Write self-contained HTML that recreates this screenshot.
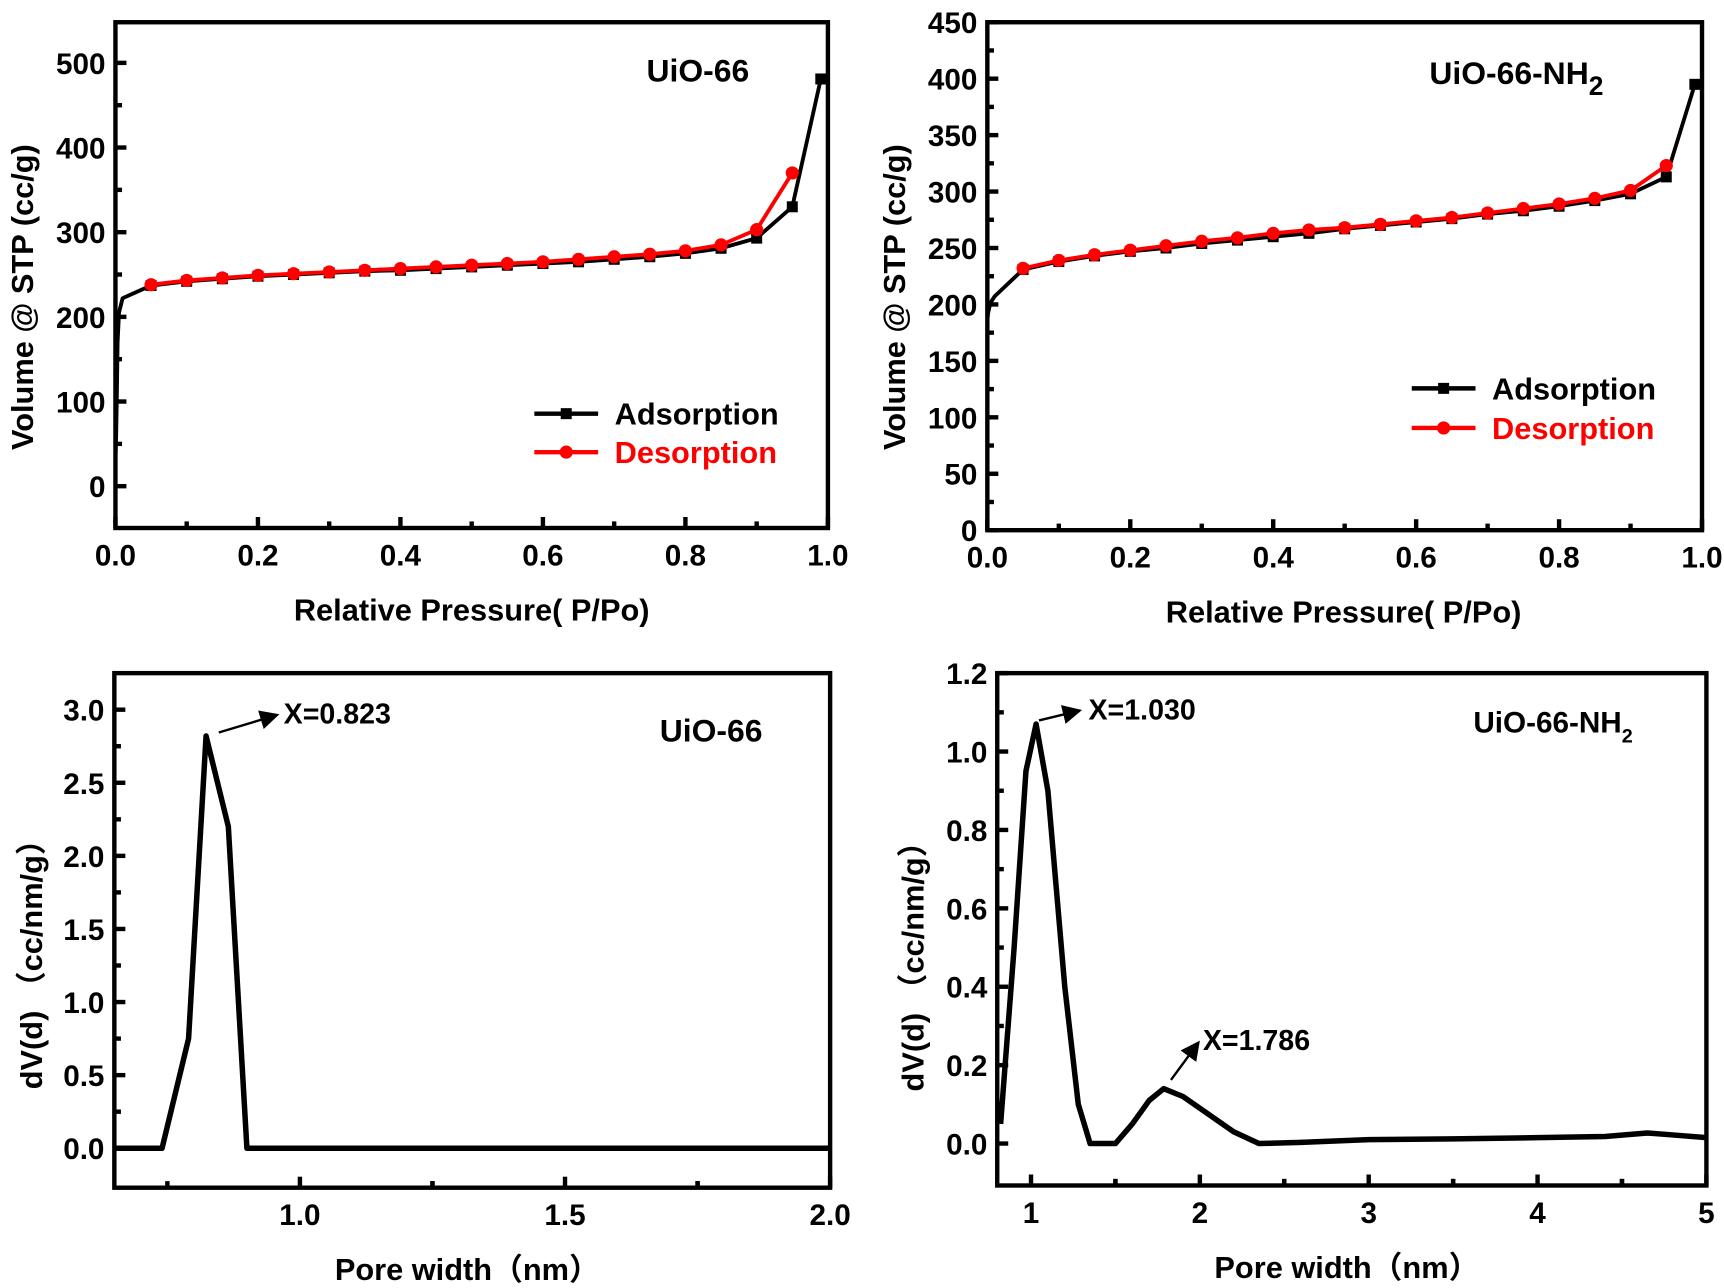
<!DOCTYPE html>
<html><head><meta charset="utf-8"><style>
html,body{margin:0;padding:0;background:#fff;}
svg{display:block;font-family:"Liberation Sans","Noto Sans CJK SC",sans-serif;font-weight:bold;}
</style></head><body>
<svg id="fig" width="1724" height="1288" viewBox="0 0 1568 1171" xmlns="http://www.w3.org/2000/svg"></svg>
<script>
// ---- data ----
const p1X = [0,0.001,0.002,0.003,0.005,0.01,0.05,0.1,0.15,0.2,0.25,0.3,0.35,0.4,0.45,0.5,0.55,0.6,0.65,0.7,0.75,0.8,0.85,0.9,0.95,0.99];
const p1Ads = [30,60,110,170,205,222,237,242,245,248,250,252,254,255,257,259,261,263,265,268,271,275,281,293,330,481];
const p1DesX = [0.05,0.1,0.15,0.2,0.25,0.3,0.35,0.4,0.45,0.5,0.55,0.6,0.65,0.7,0.75,0.8,0.85,0.9,0.95];
const p1Des = [238,243,246,249,251,253,255,257,259,261,263,265,268,271,274,278,285,303,370];
const p2X = [0,0.001,0.003,0.005,0.01,0.05,0.1,0.15,0.2,0.25,0.3,0.35,0.4,0.45,0.5,0.55,0.6,0.65,0.7,0.75,0.8,0.85,0.9,0.95,0.99];
const p2Ads = [185,192,198,202,207,231,238,243,247,250,254,257,260,263,267,270,273,276,280,283,287,292,298,313,395];
const p2DesX = [0.05,0.1,0.15,0.2,0.25,0.3,0.35,0.4,0.45,0.5,0.55,0.6,0.65,0.7,0.75,0.8,0.85,0.9,0.95];
const p2Des = [232,239,244,248,252,256,259,263,266,268,271,274,277,281,285,289,294,301,323];
const p3X = [0.65,0.74,0.79,0.823,0.865,0.9,2.0];
const p3Y = [0,0,0.75,2.82,2.2,0,0];
const p4X = [0.82,0.9,0.97,1.03,1.1,1.2,1.28,1.35,1.5,1.6,1.7,1.786,1.9,2.0,2.2,2.35,2.6,3.0,3.5,4.0,4.4,4.65,4.8,5.0];
const p4Y = [0.05,0.5,0.95,1.07,0.9,0.4,0.1,0.0,0.0,0.05,0.11,0.14,0.12,0.09,0.03,0.0,0.003,0.01,0.012,0.015,0.018,0.027,0.022,0.015];
const p1YTicks = [0,100,200,300,400,500];
const p2YTicks = [0,50,100,150,200,250,300,350,400,450];
const isoXTicks = ["0.0","0.2","0.4","0.6","0.8","1.0"];
const p3XTicks = ["1.0","1.5","2.0"];
const p3YTicks = ["0.0","0.5","1.0","1.5","2.0","2.5","3.0"];
const p4XTicks = ["1","2","3","4","5"];
const p4YTicks = ["0.0","0.2","0.4","0.6","0.8","1.0","1.2"];

const svg = document.getElementById('fig');
const NS = 'http://www.w3.org/2000/svg';
function mk(tag, attrs, parent){const e=document.createElementNS(NS,tag);for(const k in attrs)e.setAttribute(k,attrs[k]);(parent||svg).appendChild(e);return e;}
function txt(s,x,y,size,anchor,parent,fill){const t=mk('text',{x:x,y:y,'font-size':size,'text-anchor':anchor||'middle',fill:fill||'#000'},parent);t.textContent=s;return t;}

function panel(o){
  const g = mk('g',{});
  
  
  const sx = v => o.L + (v - o.x0)/(o.x1 - o.x0)*(o.R - o.L);
  const sy = v => o.B - (v - o.y0)/(o.y1 - o.y0)*(o.B - o.T);
  const fr = mk('rect',{x:o.L,y:o.T,width:o.R-o.L,height:o.B-o.T,fill:'none',stroke:'#000','stroke-width':4},g);
  
  
  o.yTicks.forEach(v=>{const n=parseFloat(v);const y=sy(n);
    mk('line',{x1:o.L,x2:o.L+10,y1:y,y2:y,stroke:'#000','stroke-width':4},g);
    const t=txt(v,o.L-9,y+10,27,'end',g);
    
    
    if(o.yMinor){const ym=sy(n+o.yMinor); if(ym>o.T+2) mk('line',{x1:o.L,x2:o.L+6,y1:ym,y2:ym,stroke:'#000','stroke-width':4},g);}
  });
  o.xTicks.forEach(v=>{const n=parseFloat(v);const x=sx(n);
    mk('line',{x1:x,x2:x,y1:o.B,y2:o.B-10,stroke:'#000','stroke-width':4},g);
    const t=txt(v,x,o.B+34,27,'middle',g);
    
    
    if(o.xMinor){const xm=sx(n+o.xMinor); if(xm<o.R-2) mk('line',{x1:xm,x2:xm,y1:o.B,y2:o.B-6,stroke:'#000','stroke-width':4},g);}
    if(o.xMinorBefore){const xm=sx(n-o.xMinor); if(xm>o.L+2) mk('line',{x1:xm,x2:xm,y1:o.B,y2:o.B-6,stroke:'#000','stroke-width':4},g);}
  });
  const xt=txt(o.xTitle,o.xTitleCx||(o.L+o.R)/2,o.B+84,28,'middle',g);
  
  
  const yt=txt(o.yTitle,0,0,28,'middle',g);
  yt.setAttribute('transform','translate('+o.yTitleX+','+o.yTitleCy+') rotate(-90)');
  
  
  o.series.forEach(s=>{
    const pts=s.x.map((xv,i)=>sx(xv)+','+sy(s.y[i])).join(' ');
    const pl=mk('polyline',{points:pts,fill:'none',stroke:s.color,'stroke-width':s.w||3.5,'stroke-linejoin':'round'},g);
    
    
    if(s.marker){s.x.forEach((xv,i)=>{
      if(s.marker==='sq'){if(xv<0.04)return;const m=mk('rect',{x:sx(xv)-5,y:sy(s.y[i])-5,width:10,height:10,fill:s.color},g);
        
        }
      else{const m=mk('circle',{cx:sx(xv),cy:sy(s.y[i]),r:6,fill:s.color},g);
        
        }
    });}
  });
  return {g,sx,sy};
}

const P1 = panel({name:'uio66-isotherm',L:105,R:753,T:20,B:480,x0:0,x1:1,y0:-49.4,y1:548,xTicks:isoXTicks,yTicks:p1YTicks.map(String),
  xMinor:0.1,yMinor:50,xTitle:'Relative Pressure( P/Po)',xTitleCx:429,yTitle:'Volume @ STP (cc/g)',yTitleX:30,yTitleCy:270,
  series:[{name:'adsorption-line',x:p1X,y:p1Ads,color:'#000',marker:'sq'},{name:'desorption-line',x:p1DesX,y:p1Des,color:'#f00',marker:'ci'}]});
const P2 = panel({name:'uio66-nh2-isotherm',L:898,R:1548,T:20,B:482,x0:0,x1:1,y0:0,y1:450,xTicks:isoXTicks,yTicks:p2YTicks.map(String),
  xMinor:0.1,yMinor:25,xTitle:'Relative Pressure( P/Po)',xTitleCx:1222,yTitle:'Volume @ STP (cc/g)',yTitleX:823,yTitleCy:270,
  series:[{name:'adsorption-line',x:p2X,y:p2Ads,color:'#000',marker:'sq'},{name:'desorption-line',x:p2DesX,y:p2Des,color:'#f00',marker:'ci'}]});
const P3 = panel({name:'uio66-pore-distribution',L:104,R:755,T:612,B:1080,x0:0.65,x1:2.0,y0:-0.27,y1:3.25,xTicks:p3XTicks,yTicks:p3YTicks,
  xMinor:0.25,xMinorBefore:true,yMinor:0.25,xTitle:'Pore width\uFF08nm\uFF09',xTitleCx:425,yTitle:'dV(d) \uFF08cc/nm/g\uFF09',yTitleX:38,yTitleCy:870,
  series:[{name:'pore-curve',x:p3X,y:p3Y,color:'#000',w:5}]});
const P4 = panel({name:'uio66-nh2-pore-distribution',L:907,R:1552,T:612,B:1078,x0:0.8,x1:5,y0:-0.107,y1:1.2,xTicks:p4XTicks,yTicks:p4YTicks,
  xMinor:0.5,xMinorBefore:true,yMinor:0.1,xTitle:'Pore width\uFF08nm\uFF09',xTitleCx:1225,yTitle:'dV(d) \uFF08cc/nm/g\uFF09',yTitleX:840,yTitleCy:872,
  series:[{name:'pore-curve',x:p4X,y:p4Y,color:'#000',w:5}]});

function label(s,x,y,size,name,fill,anchor){const t=txt(s,x,y,size,anchor||'start',svg,fill);
  
  return t;}
label('UiO-66',588,74,29,'sample-label');
const t2=label('UiO-66-NH',1300,76,29,'sample-label');
const s2=mk('tspan',{'font-size':24,dy:10});s2.textContent='2';t2.appendChild(s2);
label('UiO-66',600,674,29,'sample-label');
const t4=label('UiO-66-NH',1340,666,27,'sample-label');
const s4=mk('tspan',{'font-size':18,dy:9});s4.textContent='2';t4.appendChild(s4);

function legend(x,y,txtS,color,sq){
  const l=mk('line',{x1:x,x2:x+58,y1:y,y2:y,stroke:color,'stroke-width':4});
  
  
  if(sq){mk('rect',{x:x+24,y:y-5,width:10,height:10,fill:color});}else{mk('circle',{cx:x+29,cy:y,r:6,fill:color});}
  label(txtS,x+73,y+10,28,'legend-entry',color);
}
legend(486,376,'Adsorption','#000',true);
legend(486,411,'Desorption','#f00',false);
legend(1284,353,'Adsorption','#000',true);
legend(1284,389,'Desorption','#f00',false);

mk('defs',{}).innerHTML='<marker id="ah" markerWidth="8" markerHeight="8" refX="7" refY="4" orient="auto"><path d="M0,0 L8,4 L0,8 Z" fill="#000"/></marker>';
function arrow(x1,y1,x2,y2){const l=mk('line',{x1,y1,x2,y2,stroke:'#000','stroke-width':2.2,'marker-end':'url(#ah)'});
  
  }
arrow(199,666,252,650); label('X=0.823',258,658,26,'peak-annotation');
arrow(945,655,982,646); label('X=1.030',990,654,26,'peak-annotation');
arrow(1065,982,1090,948); label('X=1.786',1094,955,26,'peak-annotation');
</script>
</body></html>
